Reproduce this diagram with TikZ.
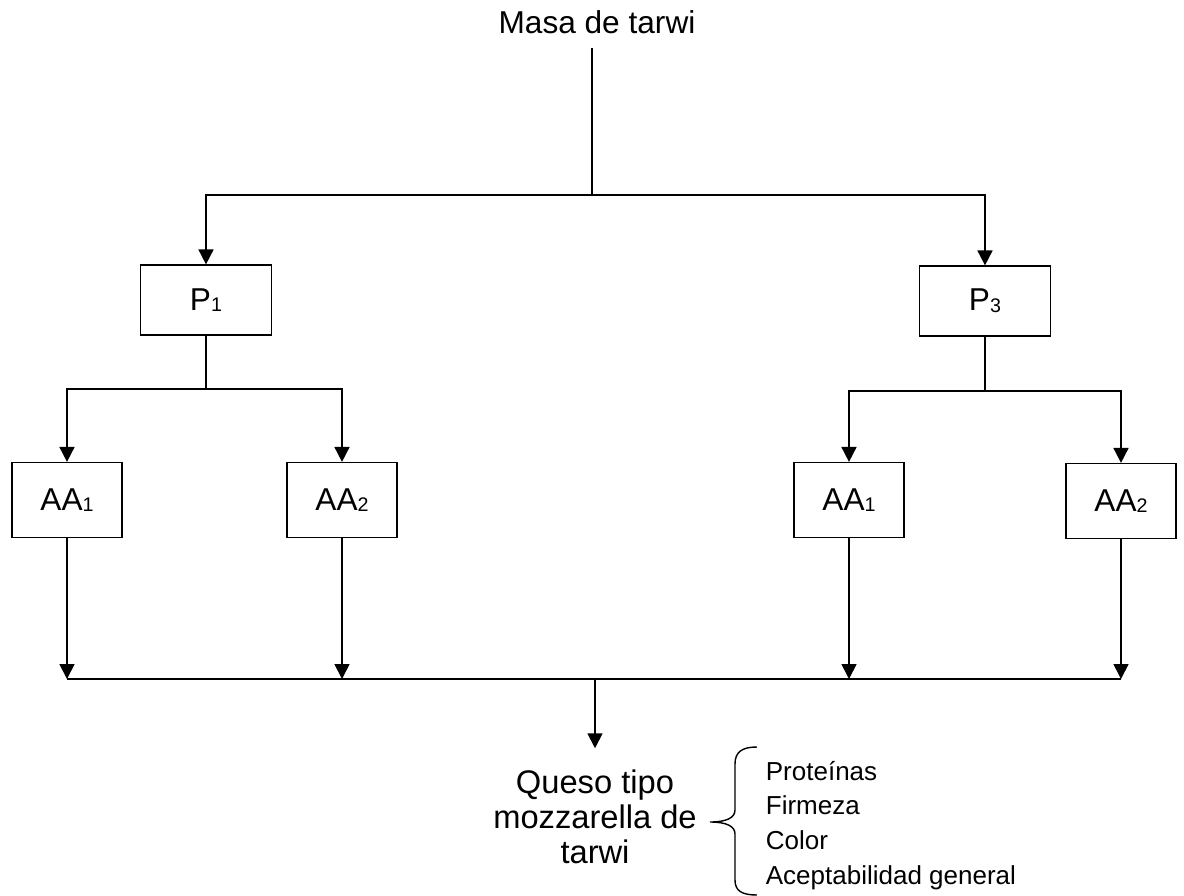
\documentclass[tikz,border=0pt]{standalone}
\usepackage{fontspec}
\setmainfont{Liberation Sans}
\usetikzlibrary{arrows.meta}
\newcommand{\idx}[1]{\raisebox{-1pt}{\fontsize{11.2}{12}\selectfont #1}}

\begin{document}
\begin{tikzpicture}[x=0.02cm,y=-0.02cm,line width=1pt,
            >={Triangle[width=8.5pt,length=8.5pt]},
            grande/.style={font=\fontsize{18}{19.8}\selectfont},
            caja/.style={draw,line width=0.7pt,inner sep=0pt,grande},
            cajaP/.style={caja,minimum width=2.62cm,minimum height=1.4cm},
            cajaAA/.style={caja,minimum width=2.2cm,minimum height=1.5cm}]
            \useasboundingbox (0,0) rectangle (1184,896);
            \path
            (597,33)    node[anchor=base,grande] (masa) {Masa de tarwi}
            (206,300)   node[cajaP] (p1) {P\idx{1}}
            (985,301)   node[cajaP] (p3) {P\idx{3}}
            (67,500)    node[cajaAA] (aa1i) {AA\idx{1}}
            (342,500)   node[cajaAA] (aa2i) {AA\idx{2}}
            (849,500)   node[cajaAA] (aa1d) {AA\idx{1}}
            (1121,501)  node[cajaAA] (aa2d) {AA\idx{2}}
            (595,817)   node[align=center,inner sep=12pt,
                        font=\fontsize{18.6}{19.8}\selectfont] (queso) {Queso tipo\\mozzarella de\\tarwi}
            (765,760)   node[anchor=north west,align=left,inner sep=0pt,
                        font=\fontsize{14.8}{19.8}\selectfont] (atributos)
                        {Proteínas\\Firmeza\\Color\\Aceptabilidad general};
            \coordinate (reparto) at (592,195);
            \coordinate (rep1) at (206,389);
            \coordinate (rep3) at (985,391);
            \coordinate (union) at (595,679);
            \draw[shorten <=4.8pt] (reparto |- masa.south) -- (reparto);
            \draw[->] (reparto) -| (p1);
            \draw[->] (reparto) -| (p3);
            \draw (p1) -- (rep1);
            \draw (p3) -- (rep3);
            \draw[->] (rep1) -| (aa1i);
            \draw[->] (rep1) -| (aa2i);
            \draw[->] (rep3) -| (aa1d);
            \draw[->] (rep3) -| (aa2d);
            \foreach \n in {aa1i,aa2i,aa1d,aa2d}
                \draw[->] (\n) -- (\n |- union);
            \draw (aa1i |- union) -- (aa2d |- union);
            \draw[->] (union) -- (queso);
            \draw[line width=0.8pt] (757,747) .. controls (742,747) and (735,752) .. (735,764)
                -- (735,810) .. controls (735,818) and (726,822) .. (710,822)
                .. controls (726,822) and (735,826) .. (735,834)
                -- (735,880) .. controls (735,891) and (742,895) .. (757,895);
\end{tikzpicture}
\end{document}
